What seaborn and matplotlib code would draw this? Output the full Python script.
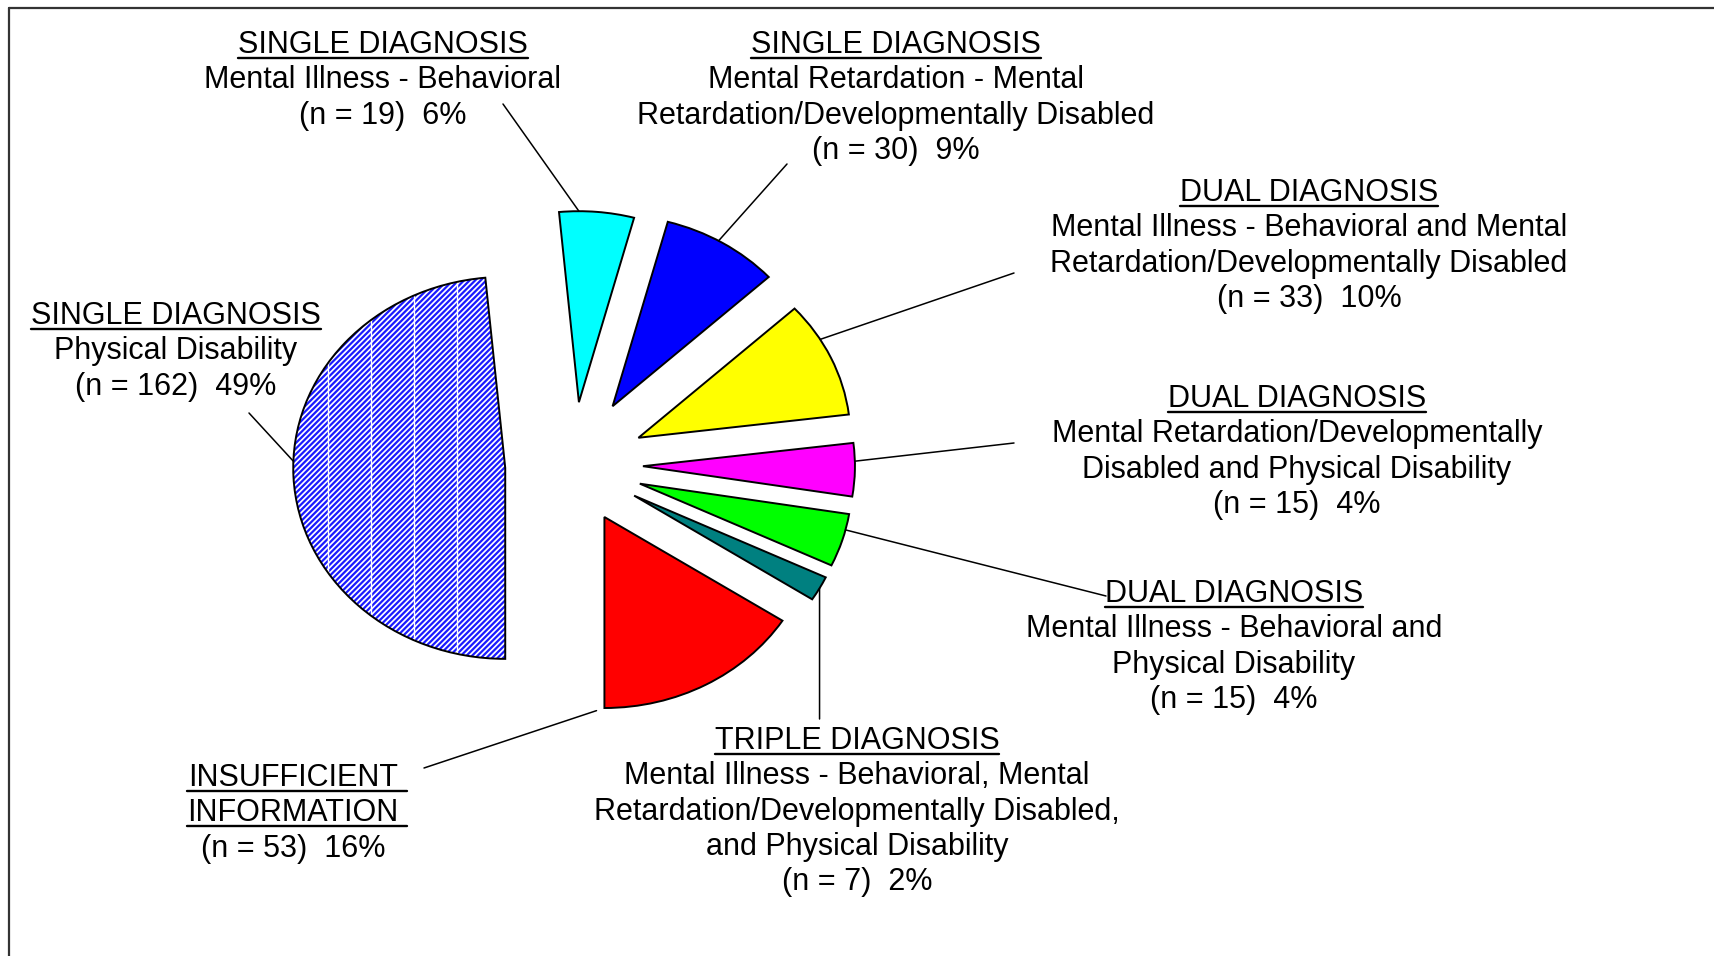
import matplotlib
matplotlib.use("Agg")
import matplotlib.pyplot as plt
import seaborn as sns
import numpy as np
from matplotlib.patches import Wedge
from matplotlib.lines import Line2D

# Diagnosis groups in pie order (counter-clockwise, starting at 6 o'clock)
groups = ["Insufficient Information", "Triple", "Dual MI-B + PD", "Dual MR/DD + PD",
          "Dual MI-B + MR/DD", "Single MR/DD", "Single MI-B", "Single PD"]
counts = [53, 7, 15, 15, 33, 30, 19, 162]
percents = [16, 2, 4, 4, 10, 9, 6, 49]
headers = [["INSUFFICIENT", "INFORMATION"], ["TRIPLE DIAGNOSIS"], ["DUAL DIAGNOSIS"],
           ["DUAL DIAGNOSIS"], ["DUAL DIAGNOSIS"], ["SINGLE DIAGNOSIS"],
           ["SINGLE DIAGNOSIS"], ["SINGLE DIAGNOSIS"]]
descriptions = [
    [],
    ["Mental Illness - Behavioral, Mental", "Retardation/Developmentally Disabled,",
     "and Physical Disability"],
    ["Mental Illness - Behavioral and", "Physical Disability"],
    ["Mental Retardation/Developmentally", "Disabled and Physical Disability"],
    ["Mental Illness - Behavioral and Mental", "Retardation/Developmentally Disabled"],
    ["Mental Retardation - Mental", "Retardation/Developmentally Disabled"],
    ["Mental Illness - Behavioral"],
    ["Physical Disability"],
]
colors = ["#FF0000", "#008080", "#00FF00", "#FF00FF", "#FFFF00", "#0000FF", "#00FFFF", "white"]

# layout (pixels from top-left of the 1714x956 canvas)
W, H = 1714, 956
pie_cx, pie_cy = 573, 465
rad_x, rad_y = 212, 191
explode = [0.31, 0.33, 0.33, 0.33, 0.34, 0.36, 0.33, 0.32]
label_pos = [(293, 786), (857, 749), (1234, 602), (1297, 407), (1309, 201),
             (896, 53), (383, 53), (176, 324)]
leader_angle = [-90, -29, -14, 1.5, 31, 60, 90, 178]
leader_end = [(424, 768), (None, 719), (1106, 596), (1014, 443), (1014, 273),
              (787, 164), (503, 104), (249, 413)]
line_step = 35.3

sns.set_theme(style="white")
plt.rcParams['font.family'] = ['Liberation Sans', 'DejaVu Sans']
plt.rcParams['hatch.linewidth'] = 1.6

fig = plt.figure(figsize=(W / 100, H / 100), dpi=100)
fig.patch.set_facecolor("white")
ax = fig.add_axes([0, 0, 1, 1])

wedges, _ = ax.pie(counts, colors=colors, startangle=-90, counterclock=True,
                   explode=explode, radius=1, center=(0, 0),
                   wedgeprops=dict(edgecolor="black", linewidth=1.4))

# hatched physical disability slice: blue hatch, black outline on top
pw = wedges[-1]
pw.set_facecolor("white")
pw.set_edgecolor("#1a1aff")
pw.set_hatch("//////")
pw.set_linewidth(0)
outline = Wedge(pw.center, pw.r, pw.theta1, pw.theta2, fill=False,
                edgecolor="black", linewidth=1.4, zorder=3)
ax.add_patch(outline)

# stretch the pie the way the original was (wider than tall)
ax.set_aspect("auto")
ax.set_xlim(-pie_cx / rad_x, (W - pie_cx) / rad_x)
ax.set_ylim(-(H - pie_cy) / rad_y, pie_cy / rad_y)
ax.axis("off")

# pale tiling seams in the hatch fill
for sx in [328, 371, 414, 457]:
    seam = Line2D([sx / W, sx / W], [0, 1], transform=fig.transFigure,
                  color="white", linewidth=1.0, zorder=2)
    seam.set_clip_path(pw)
    ax.add_line(seam)

# leader lines
for w, ang, end in zip(wedges, leader_angle, leader_end):
    a = np.deg2rad(ang)
    tx = w.center[0] + w.r * np.cos(a)
    ty = w.center[1] + w.r * np.sin(a)
    ex, ey = end
    if ex is None:
        ex = ax.transData.transform((tx, ty))[0]
    ax.annotate("", xy=(tx, ty), xycoords="data",
                xytext=(ex / W, 1 - ey / H), textcoords="figure fraction",
                arrowprops=dict(arrowstyle="-", color="black", lw=1.1,
                                shrinkA=0, shrinkB=6 if ang == -90 else 0))

# labels
fs = 22
header_texts = []
for (x, y), head, desc, n, p in zip(label_pos, headers, descriptions, counts, percents):
    lines = head + desc + [f"(n = {n})  {p}%"]
    hts = []
    for k, s in enumerate(lines):
        t = fig.text(x / W, 1 - (y + k * line_step) / H, s, ha="center", va="baseline",
                     fontsize=fs, color="black")
        if k < len(head):
            hts.append((t, y + k * line_step))
    header_texts.append(hts)

# underline the headers
fig.canvas.draw()
renderer = fig.canvas.get_renderer()
for hts in header_texts:
    boxes = [t.get_window_extent(renderer) for t, _ in hts]
    x0 = min(b.x0 for b in boxes)
    x1 = max(b.x1 for b in boxes) + (8 if len(hts) > 1 else 0)
    for t, yb in hts:
        uy = 1 - (yb + 5) / H
        fig.add_artist(Line2D([x0 / W, x1 / W], [uy, uy], transform=fig.transFigure,
                              color="black", linewidth=1.7))

# frame (left and top edges visible)
fx, fy = 8.5 / W, 1 - 7.5 / H
fig.add_artist(Line2D([fx, fx], [0, fy], transform=fig.transFigure, color="#333333", linewidth=1.6))
fig.add_artist(Line2D([fx, 1], [fy, fy], transform=fig.transFigure, color="#333333", linewidth=1.6))

fig.savefig("out.png", dpi=100)
plt.close(fig)
